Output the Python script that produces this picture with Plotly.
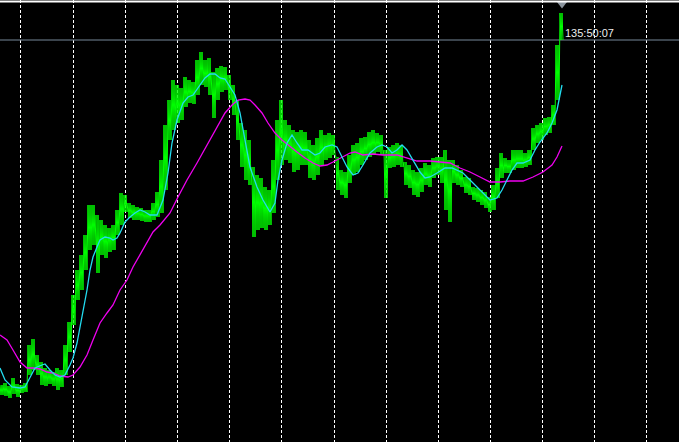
import plotly.graph_objects as go

# ---- data (time index = bar position, price in chart units) ----
green_x = list(range(0, 561, 4))
green_hi = [57, 59, 56, 64, 58, 57, 59, 97, 103, 87,
            80, 74, 72, 70, 74, 72, 97, 120, 147, 172,
            187, 207, 237, 237, 227, 222, 217, 214, 217, 232,
            249, 247, 239, 237, 235, 234, 232, 232, 239, 250,
            282, 317, 342, 362, 357, 354, 365, 362, 360, 382,
            390, 382, 384, 370, 374, 376, 375, 367, 357, 342,
            319, 312, 302, 275, 267, 264, 255, 252, 282, 322,
            342, 322, 317, 312, 310, 312, 310, 302, 297, 304,
            312, 307, 309, 307, 285, 272, 270, 287, 297, 299,
            304, 305, 310, 312, 309, 307, 292, 295, 297, 299,
            297, 280, 277, 272, 270, 274, 279, 277, 284, 285,
            285, 292, 282, 282, 277, 272, 265, 264, 255, 254,
            252, 250, 245, 257, 274, 289, 284, 282, 292, 292,
            292, 289, 292, 314, 317, 319, 324, 325, 337, 397,
            429]
green_lo = [47, 46, 44, 48, 45, 49, 50, 67, 72, 67,
            57, 56, 58, 56, 52, 55, 67, 90, 117, 142,
            152, 172, 192, 197, 169, 187, 184, 190, 192, 207,
            217, 230, 224, 222, 222, 221, 220, 220, 222, 225,
            229, 252, 302, 312, 319, 322, 335, 339, 338, 347,
            357, 355, 347, 324, 342, 350, 352, 342, 327, 302,
            275, 262, 257, 205, 212, 214, 212, 217, 229, 262,
            277, 282, 279, 270, 272, 277, 277, 264, 262, 267,
            277, 282, 284, 287, 252, 247, 244, 259, 267, 270,
            277, 282, 285, 287, 290, 287, 244, 274, 275, 277,
            275, 257, 254, 247, 245, 250, 257, 255, 264, 267,
            259, 232, 220, 259, 257, 255, 249, 247, 242, 240,
            237, 234, 230, 232, 244, 264, 269, 269, 272, 274,
            274, 275, 277, 292, 299, 302, 307, 309, 317, 342,
            402]

fast_x = [0, 5, 12, 20, 25, 30, 35, 42, 45, 50, 55, 60, 65, 70, 73, 77, 80, 83, 87, 90,
          93, 97, 100, 105, 110, 113, 117, 120, 125, 130, 135, 140, 145, 150, 157, 163, 168, 172, 177, 183,
          188, 193, 198, 205, 210, 215, 220, 225, 230, 235, 240, 245, 250, 257, 263, 270, 275, 278, 282, 287,
          292, 297, 302, 308, 315, 320, 325, 332, 337, 342, 347, 353, 358, 363, 370, 377, 382, 387, 392, 397,
          402, 407, 413, 420, 425, 430, 437, 445, 452, 457, 463, 470, 477, 483, 490, 497, 502, 507, 512, 517,
          523, 530, 535, 540, 547, 552, 557, 562]
ma_fast = [74, 62, 55, 54, 55, 65, 74, 77, 78, 72, 67, 65, 67, 77, 84, 99, 115, 129, 152, 172,
           185, 195, 202, 205, 204, 202, 204, 209, 220, 225, 229, 232, 230, 227, 227, 242, 269, 299, 322, 339,
           345, 347, 354, 364, 368, 368, 364, 363, 355, 347, 329, 302, 275, 255, 242, 230, 239, 262, 282, 299,
           307, 299, 292, 292, 287, 289, 295, 297, 295, 285, 275, 267, 269, 277, 289, 295, 297, 295, 289, 292,
           297, 292, 282, 270, 264, 265, 269, 274, 274, 272, 269, 262, 255, 249, 242, 244, 252, 262, 272, 279,
           279, 282, 292, 300, 309, 319, 332, 357]

slow_x = [0, 7, 13, 20, 27, 33, 40, 47, 53, 60, 68, 73, 80, 87, 93, 100, 107, 113, 120, 127,
          133, 140, 147, 153, 160, 170, 178, 187, 197, 207, 217, 225, 232, 238, 245, 250, 255, 262, 268, 275,
          282, 288, 297, 305, 313, 320, 327, 333, 342, 350, 355, 363, 373, 383, 397, 407, 417, 430, 440, 450,
          460, 470, 480, 490, 500, 510, 523, 533, 543, 552, 557, 562]
ma_slow = [107, 102, 92, 80, 74, 74, 73, 70, 69, 66, 65, 67, 75, 87, 102, 119, 129, 137, 152, 162,
           175, 187, 199, 210, 217, 229, 245, 262, 279, 297, 315, 329, 337, 342, 343, 342, 337, 329, 319, 309,
           302, 297, 290, 284, 279, 276, 277, 280, 285, 289, 290, 287, 288, 287, 287, 284, 281, 281, 280, 279,
           274, 270, 265, 260, 260, 261, 261, 265, 270, 277, 285, 296]

grid_x = [20.5, 73.5, 125.5, 177.5, 229.5, 281.5, 334.5, 386.5, 438.5, 490.5, 542.5, 594.5, 646.5]
level_price = 402
timer_text = "135:50:07"
last_x = 562
pointer_price = 438

# ---- price trace drawn as high/low strokes, one per pixel column ----
zz_x, zz_y = [], []
for x, h, l in zip(green_x, green_hi, green_lo):
    for k in range(4):
        zz_x.append(x + k)
        zz_y.append(h if k % 2 == 0 else l)

fig = go.Figure()
fig.add_trace(go.Scatter(x=[0, 679], y=[level_price, level_price], mode="lines",
                         line=dict(color="#778899", width=1), hoverinfo="skip"))
fig.add_trace(go.Scatter(x=zz_x, y=zz_y, mode="lines",
                         line=dict(color="#00ff00", width=1), hoverinfo="skip"))
fig.add_trace(go.Scatter(x=slow_x, y=ma_slow, mode="lines",
                         line=dict(color="#f000f0", width=1.3), hoverinfo="skip"))
fig.add_trace(go.Scatter(x=fast_x, y=ma_fast, mode="lines",
                         line=dict(color="#22dcf0", width=1.3), hoverinfo="skip"))
fig.add_trace(go.Scatter(x=[last_x], y=[pointer_price], mode="markers",
                         marker=dict(symbol="triangle-down", size=9, color="#8a939c",
                                     line=dict(width=0)), hoverinfo="skip"))

fig.add_annotation(x=last_x + 1, y=level_price + 7, text=timer_text, showarrow=False,
                   xanchor="left", yanchor="middle",
                   font=dict(family="Liberation Sans", size=11, color="#eeeeee"))

fig.add_shape(type="line", xref="paper", yref="paper", x0=0, x1=1, y0=0.9966, y1=0.9966,
              line=dict(color="white", width=2))

fig.update_layout(
    width=679, height=442, margin=dict(l=0, r=0, t=0, b=0),
    paper_bgcolor="black", plot_bgcolor="black", showlegend=False,
    xaxis=dict(range=[0, 679], tickvals=grid_x, showticklabels=False, ticks="",
               showgrid=True, gridcolor="white", gridwidth=1, griddash="3px,2px",
               zeroline=False, showline=False, fixedrange=True),
    yaxis=dict(range=[0, 442], showticklabels=False, ticks="", showgrid=False,
               zeroline=False, showline=False, fixedrange=True),
)

fig.write_html("out.html", config={"displayModeBar": False},
               post_script="document.body.style.margin='0';document.body.style.padding='0';"
                           "document.body.style.background='black';")
